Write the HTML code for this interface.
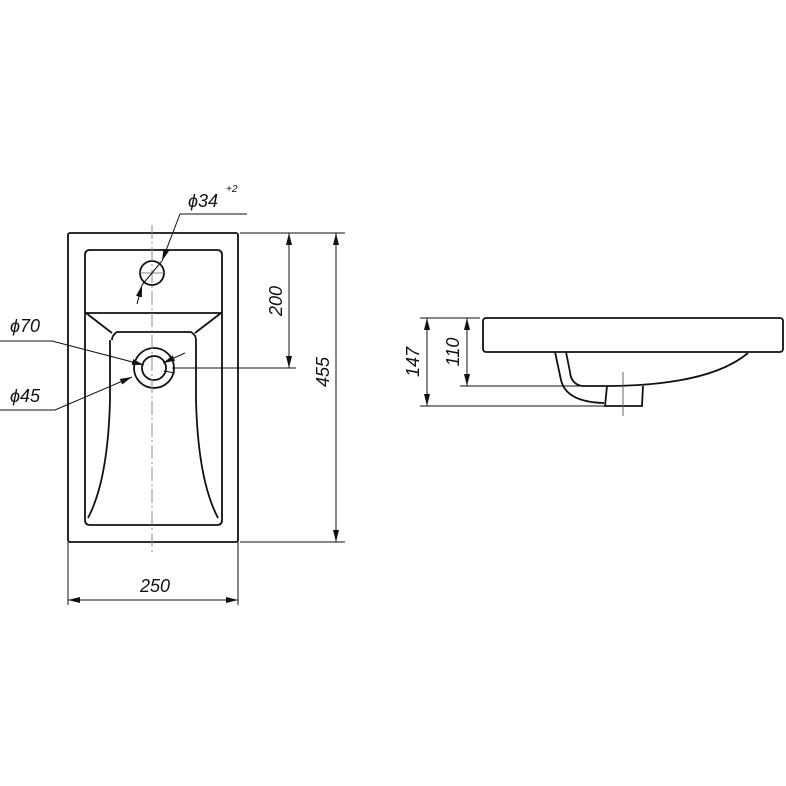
<!DOCTYPE html>
<html><head><style>html,body{margin:0;padding:0;background:#fff}svg{display:block}</style></head>
<body>
<svg width="786" height="786" viewBox="0 0 786 786" xmlns="http://www.w3.org/2000/svg">
<defs>
<marker id="a" viewBox="0 0 12 6" refX="12" refY="3" markerWidth="12" markerHeight="6" orient="auto-start-reverse" markerUnits="userSpaceOnUse"><path d="M0,0L12,3L0,6z" fill="#111"/></marker>
</defs>
<g fill="none" stroke="#111" stroke-width="1.8">
<rect x="68" y="233" width="170" height="309" rx="2"/>
<path d="M85,313 L85,255 Q85,250 90,250 L217,250 Q222,250 222,255 L222,313"/>
<path d="M85,313 L85,520 Q85,525 90,525 L217,525 Q222,525 222,520 L222,313"/>
<line x1="85" y1="313" x2="222" y2="313"/>
<line x1="86" y1="313" x2="112" y2="333"/>
<line x1="221" y1="313" x2="195" y2="333"/>
<path d="M112,340 Q112,335 117,332 L191,332 Q196,335 196,340 L196,400 Q198,480 218,518"/>
<path d="M110,340 L110,400 Q108,480 88,518"/>
<circle cx="152" cy="273" r="12"/>
<circle cx="154" cy="368" r="20"/>
<circle cx="154" cy="368" r="12"/>
<rect x="483" y="318" width="300" height="34" rx="3"/>
<path d="M748,353 Q710,385 610,386 L582,386 Q571,384 570,372 L566,352"/>
<path d="M555,352 L561,380 Q566,402 604,403"/>
<path d="M607,386 L605,406 L642,406 L643,386"/>
</g>
<g fill="none" stroke="#111" stroke-width="1">
<line x1="152" y1="225" x2="152" y2="552" stroke="#888" stroke-dasharray="14,3,2,3"/>
<line x1="140" y1="273" x2="164" y2="273" stroke="#888"/>
<line x1="240" y1="233" x2="345" y2="233"/>
<line x1="240" y1="542" x2="345" y2="542"/>
<line x1="172" y1="368" x2="296" y2="368"/>
<line x1="289" y1="233" x2="289" y2="368" marker-start="url(#a)" marker-end="url(#a)"/>
<line x1="336" y1="233" x2="336" y2="542" marker-start="url(#a)" marker-end="url(#a)"/>
<line x1="68" y1="542" x2="68" y2="605"/>
<line x1="238" y1="542" x2="238" y2="605"/>
<line x1="68" y1="600" x2="238" y2="600" marker-start="url(#a)" marker-end="url(#a)"/>
<polyline points="247,214 180,214 162,261" marker-end="url(#a)"/>
<line x1="162" y1="261" x2="142" y2="285"/>
<line x1="137" y1="304" x2="142" y2="285" marker-end="url(#a)"/>
<polyline points="0,341 52,341 144,365" marker-end="url(#a)"/>
<line x1="185" y1="353" x2="163" y2="363" marker-end="url(#a)"/>
<polyline points="0,410 55,410 132,377" marker-end="url(#a)"/>
<line x1="175" y1="373" x2="164" y2="371"/>
<line x1="420" y1="318" x2="480" y2="318"/>
<line x1="460" y1="386" x2="607" y2="386"/>
<line x1="420" y1="406" x2="605" y2="406"/>
<line x1="467" y1="318" x2="467" y2="386" marker-start="url(#a)" marker-end="url(#a)"/>
<line x1="427" y1="318" x2="427" y2="406" marker-start="url(#a)" marker-end="url(#a)"/>
<line x1="623" y1="372" x2="623" y2="416" stroke="#666"/>
</g>
<g font-family="Liberation Sans, sans-serif" font-style="italic" font-size="18" fill="#111">
<text x="188" y="207">ϕ34</text>
<text x="226" y="192" font-size="10">+2</text>
<text x="10" y="332">ϕ70</text>
<text x="10" y="402">ϕ45</text>
<text x="155" y="592" text-anchor="middle">250</text>
<text transform="translate(282,301) rotate(-90)" text-anchor="middle">200</text>
<text transform="translate(329,372) rotate(-90)" text-anchor="middle">455</text>
<text transform="translate(459,352) rotate(-90)" text-anchor="middle">110</text>
<text transform="translate(419,362) rotate(-90)" text-anchor="middle">147</text>
</g>
</svg>
</body></html>
